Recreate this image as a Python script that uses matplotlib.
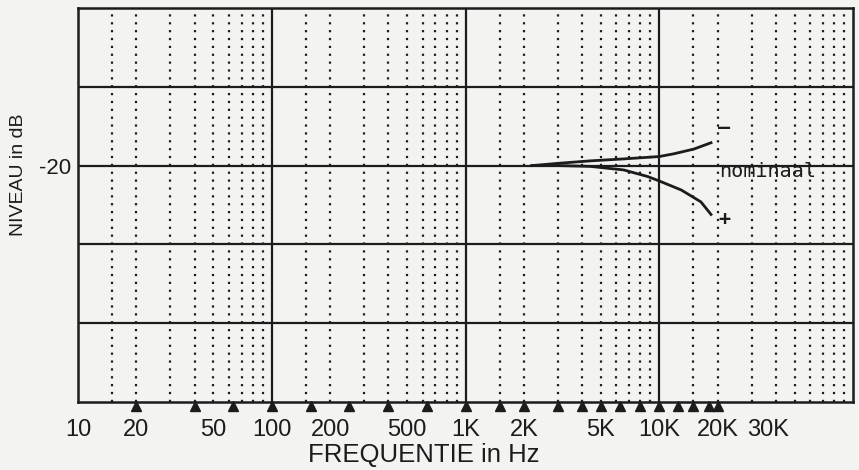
import matplotlib
matplotlib.use('Agg')

import matplotlib.pyplot as plt
from matplotlib.transforms import ScaledTranslation, blended_transform_factory

# frequency axis labels
tick_freqs = [10, 20, 50, 100, 200, 500, 1000, 2000, 5000, 10000, 20000, 30000]
tick_labels = ['10', '20', '50', '100', '200', '500', '1K', '2K', '5K', '10K', '20K', '30K']

# measuring points marked with triangles under the axis
marker_freqs = [20, 40, 63, 100, 160, 250, 400, 630, 1000, 1500, 2000, 3000,
                4000, 5000, 6300, 8000, 10000, 12500, 15000, 18000, 20000]

# response curves (dB)
minus_freqs = [2200, 3050, 4400, 6550, 10000, 11900, 15100, 18500]
minus_db = [-20.0, -19.7, -19.4, -19.15, -18.85, -18.5, -17.9, -17.1]
plus_freqs = [2200, 3050, 4400, 6550, 8750, 10000, 13000, 16400, 18500]
plus_db = [-20.0, -20.0, -20.1, -20.55, -21.4, -21.95, -23.1, -24.6, -26.2]

ink = '#1c1c1c'
paper = '#f3f3f1'

fig = plt.figure(figsize=(8.59, 4.70), dpi=100, facecolor=paper)
ax = fig.add_axes([78 / 859, 1 - 402 / 470, 775 / 859, 394 / 470])
ax.set_facecolor(paper)
ax.set_xscale('log')
ax.set_xlim(10, 100000)
ax.set_ylim(-50, 0)

# dotted lines at 1.5, 2 ... 9 of every decade
for dec in [10, 100, 1000, 10000]:
    for m in [1.5, 2, 3, 4, 5, 6, 7, 8, 9]:
        ax.axvline(m * dec, color=ink, lw=1.6, ls=(0, (1, 2.54)), zorder=1)
# solid decade and 10 dB lines
for dec in [100, 1000, 10000]:
    ax.axvline(dec, color=ink, lw=1.6, zorder=2)
for lev in [-10, -20, -30, -40]:
    ax.axhline(lev, color=ink, lw=1.6, zorder=2)
for s in ax.spines.values():
    s.set_linewidth(1.8)
    s.set_color(ink)

ax.plot(minus_freqs, minus_db, color=ink, lw=2.0, zorder=3)
ax.plot(plus_freqs, plus_db, color=ink, lw=2.0, zorder=3)

ax.text(20000, -15.2, '–', fontsize=14.5, family='DejaVu Sans Mono', color=ink,
        ha='left', va='center', fontweight='bold')
ax.text(20300, -20.7, 'nominaal', fontsize=14.5, family='DejaVu Sans Mono', color=ink,
        ha='left', va='center')
ax.text(20300, -26.8, '+', fontsize=14.5, family='DejaVu Sans Mono', color=ink,
        ha='left', va='center', fontweight='bold')

trans = blended_transform_factory(ax.transData, ax.transAxes)
ax.plot(marker_freqs, [0] * len(marker_freqs), ls='none', marker='^', ms=6.5,
        color=ink, transform=trans + ScaledTranslation(0, -4 / 100, fig.dpi_scale_trans),
        clip_on=False, zorder=4)

ax.set_xticks(tick_freqs)
ax.set_xticklabels(tick_labels)
ax.minorticks_off()
ax.tick_params(axis='x', length=0, pad=12, labelsize=17, colors=ink)
for lab in ax.get_xticklabels():
    lab.set_family('Liberation Sans')
    if lab.get_text() == '30K':
        lab.set_transform(lab.get_transform() + ScaledTranslation(16 / 100, 0, fig.dpi_scale_trans))

ax.set_yticks([-20])
ax.set_yticklabels(['-20'])
ax.tick_params(axis='y', length=0, pad=5, labelsize=16, colors=ink)
for lab in ax.get_yticklabels():
    lab.set_family('Liberation Sans')

fig.text(19 / 859, 1 - 175 / 470, 'NIVEAU in dB', rotation=90, fontsize=14,
         family='Liberation Sans', color=ink, ha='center', va='center')
fig.text(424 / 859, 1 - 455 / 470, 'FREQUENTIE in Hz', fontsize=18.5,
         family='Liberation Sans', color=ink, ha='center', va='center')

plt.savefig('out.png', dpi=100, facecolor=paper)
